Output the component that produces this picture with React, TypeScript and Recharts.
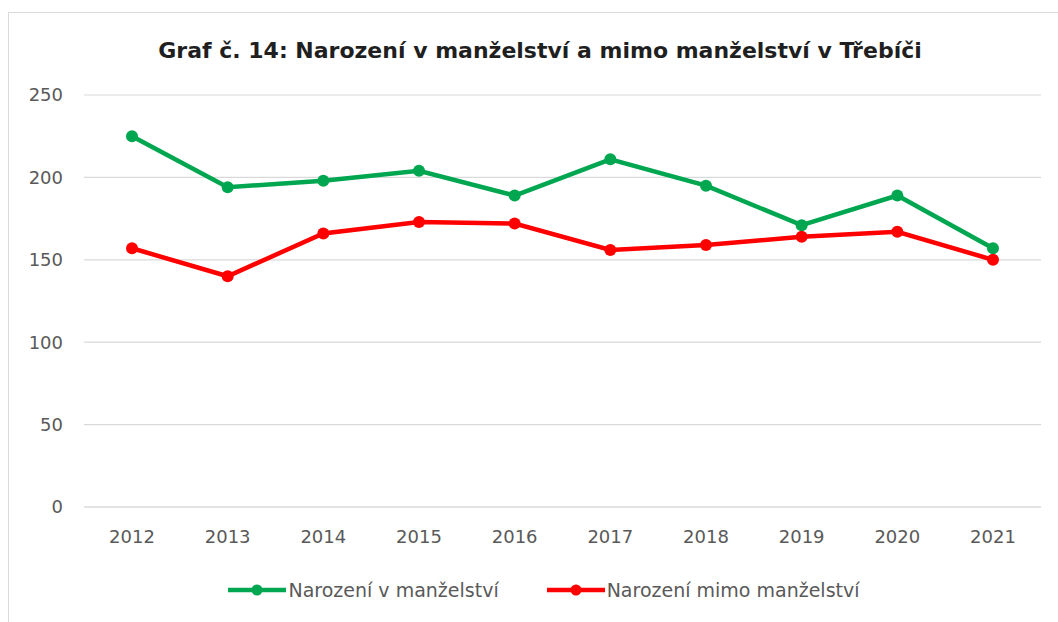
import React from "react";
import { LineChart, Line, XAxis, YAxis, CartesianGrid, Legend } from "recharts";

const years = ["2012", "2013", "2014", "2015", "2016", "2017", "2018", "2019", "2020", "2021"];
const inMarriage = [225, 194, 198, 204, 189, 211, 195, 171, 189, 157];
const outOfMarriage = [157, 140, 166, 173, 172, 156, 159, 164, 167, 150];
const yTicks = [0, 50, 100, 150, 200, 250];
const seriesNames = ["Narození v manželství", "Narození mimo manželství"];
const title = "Graf č. 14: Narození v manželství a mimo manželství v Třebíči";

const GREEN = "#00A650";
const RED = "#FF0000";

const data = years.map((y, i) => ({ year: y, a: inMarriage[i], b: outOfMarriage[i] }));

const FONT = "'DejaVu Sans', Verdana, sans-serif";

const LegendContent = (props: any) => {
  const items = [...(props.payload || [])].sort(
    (p: any, q: any) => seriesNames.indexOf(p.value) - seriesNames.indexOf(q.value)
  );
  return (
    <div style={{ display: "flex", justifyContent: "center", alignItems: "center", fontFamily: FONT, fontSize: 19, color: "#595959", width: 1088 }}>
      {items.map((it: any, i: number) => (
        <div key={i} style={{ display: "flex", alignItems: "center", marginRight: i === 0 ? 48 : 0 }}>
          <svg width={58} height={14} style={{ marginRight: 2 }}>
            <line x1={0} y1={7} x2={58} y2={7} stroke={it.color} strokeWidth={4.5} />
            <circle cx={29} cy={7} r={5.5} fill={it.color} />
          </svg>
          <span>{it.value}</span>
        </div>
      ))}
    </div>
  );
};

export default function App() {
  return (
    <div style={{ position: "absolute", left: 0, top: 0, width: 1058, height: 622, background: "#fff", overflow: "hidden" }}>
      <div style={{ position: "absolute", left: 8, top: 12, width: 1100, height: 700, border: "1px solid #d9d9d9", boxSizing: "border-box" }} />
      <div style={{ position: "absolute", left: 0, top: 38, width: 1080, textAlign: "center", fontFamily: FONT, fontWeight: "bold", fontSize: 22, color: "#1f1f1f" }}>
        {title}
      </div>
      <div style={{ position: "absolute", left: 0, top: 0 }}>
        <LineChart width={1058} height={622} data={data} margin={{ top: 95, right: 17, bottom: 85, left: 0 }}>
          <CartesianGrid vertical={false} stroke="#d9d9d9" strokeWidth={1.2} />
          <XAxis
            dataKey="year"
            height={30}
            padding={{ left: 48, right: 48 }}
            axisLine={{ stroke: "#d9d9d9", strokeWidth: 1.2 }}
            tickLine={false}
            tickMargin={17}
            tick={{ fill: "#595959", fontSize: 18, fontFamily: FONT }}
          />
          <YAxis
            width={84}
            domain={[0, 250]}
            ticks={yTicks}
            axisLine={false}
            tickLine={false}
            tickMargin={15}
            tick={{ fill: "#595959", fontSize: 18, fontFamily: FONT }}
          />
          <Legend
            verticalAlign="middle"
            align="center"
            layout="horizontal"
            wrapperStyle={{ top: 579, left: 0, width: 1088 }}
            content={<LegendContent />}
          />
          <Line
            dataKey="a"
            name={seriesNames[0]}
            stroke={GREEN}
            strokeWidth={4.5}
            dot={{ r: 6, fill: GREEN, stroke: GREEN, strokeWidth: 0 }}
            activeDot={false}
            isAnimationActive={false}
          />
          <Line
            dataKey="b"
            name={seriesNames[1]}
            stroke={RED}
            strokeWidth={4.5}
            dot={{ r: 6, fill: RED, stroke: RED, strokeWidth: 0 }}
            activeDot={false}
            isAnimationActive={false}
          />
        </LineChart>
      </div>
    </div>
  );
}
